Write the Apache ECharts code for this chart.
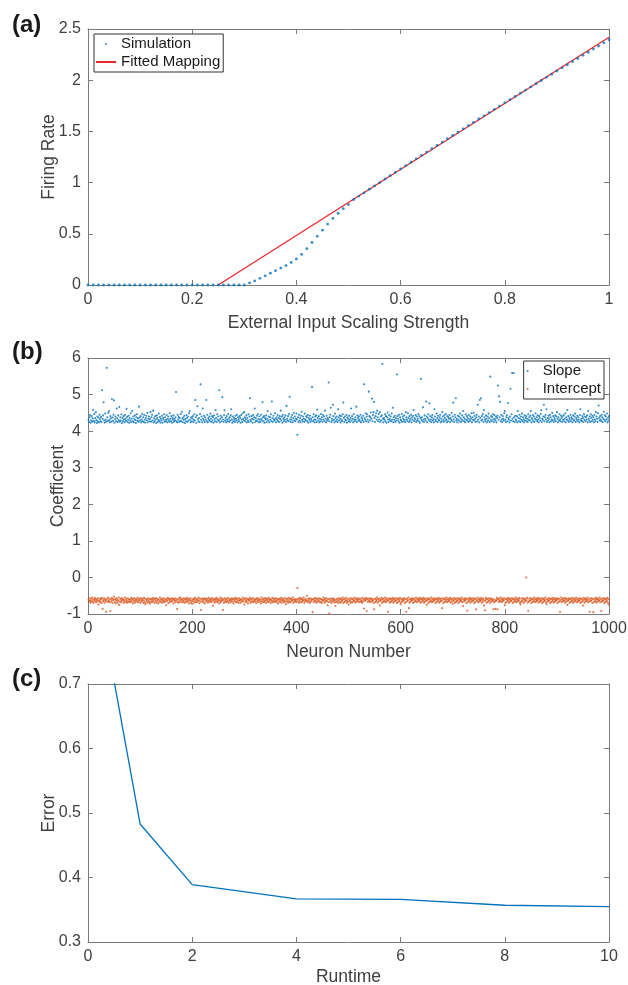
<!DOCTYPE html>
<html>
<head>
<meta charset="utf-8">
<script src="https://cdn.jsdelivr.net/npm/echarts@6/dist/echarts.min.js"></script>
<style>
html,body{margin:0;padding:0;background:#fff;}
#chart{width:628px;height:985px;}
</style>
</head>
<body>
<div id="chart"></div>
<script>
// ---------- Panel (a) data ----------
const simX = [0,0.01,0.02,0.03,0.04,0.05,0.06,0.07,0.08,0.09,0.10,0.11,0.12,0.13,0.14,0.15,0.16,0.17,0.18,0.19,0.20,0.21,0.22,0.23,0.24,0.25,0.26,0.27,0.28,0.29,0.30,0.31,0.32,0.33,0.34,0.35,0.36,0.37,0.38,0.39,0.40,0.41,0.42,0.43,0.44,0.45,0.46,0.47,0.48,0.49,0.50,0.51,0.52,0.53,0.54,0.55,0.56,0.57,0.58,0.59,0.60,0.61,0.62,0.63,0.64,0.65,0.66,0.67,0.68,0.69,0.70,0.71,0.72,0.73,0.74,0.75,0.76,0.77,0.78,0.79,0.80,0.81,0.82,0.83,0.84,0.85,0.86,0.87,0.88,0.89,0.90,0.91,0.92,0.93,0.94,0.95,0.96,0.97,0.98,0.99,1.00];
const simY = [0,0,0,0,0,0,0,0,0,0,0,0,0,0,0,0,0,0,0,0,0,0,0,0,0,0,0,0,0,0,0,
  0.02,0.04,0.065,0.09,0.115,0.14,0.165,0.19,0.22,0.255,
  0.30,0.355,0.415,0.475,0.535,0.595,0.65,0.70,0.745,0.785,
  0.835,0.868,0.900,0.935,0.968,1.000,1.035,1.067,1.100,1.133,
  1.166,1.199,1.232,1.265,1.298,1.331,1.363,1.396,1.428,1.461,
  1.493,1.525,1.557,1.589,1.621,1.652,1.684,1.716,1.747,1.779,
  1.810,1.842,1.873,1.904,1.935,1.966,1.997,2.028,2.059,2.090,
  2.121,2.151,2.182,2.212,2.243,2.273,2.304,2.334,2.365,2.395];
const fitX = [0.25, 1.0];
const fitY = [0, 2.42];

// ---------- Panel (b) data (neuron 1..1000) ----------
const slope = [
4.31,4.25,4.38,4.44,4.23,4.29,4.41,4.26,4.35,4.58,4.28,4.47,4.24,4.36,4.52,4.30,4.22,4.40,4.27,4.37,
4.24,4.45,4.33,4.27,4.39,4.25,5.12,4.34,4.43,4.79,4.29,4.23,4.48,4.32,4.26,5.73,4.38,4.28,4.50,4.55,
4.30,4.24,4.41,4.35,4.26,4.88,4.37,4.28,4.45,4.84,4.23,4.33,4.40,4.27,4.62,4.35,4.25,4.43,4.30,4.66,
4.26,4.38,4.29,4.46,4.22,4.36,4.27,4.41,4.32,4.24,4.44,4.34,4.28,4.61,4.39,4.25,4.31,4.42,4.23,4.36,
4.29,4.49,4.25,4.34,4.55,4.27,4.40,4.24,4.33,4.43,4.30,4.22,4.38,4.46,4.28,4.35,4.26,4.67,4.37,4.29,
4.41,4.24,4.32,4.47,4.27,4.38,4.25,4.44,4.31,4.23,4.36,4.42,4.29,4.50,4.24,4.34,4.40,4.27,4.33,4.52,
4.26,4.38,4.45,4.29,4.56,4.24,4.35,4.27,4.41,4.32,4.22,4.43,4.36,4.25,4.31,4.48,4.28,4.39,4.23,4.34,
4.29,4.42,4.23,4.36,4.32,4.46,4.26,4.38,4.27,4.31,4.44,4.24,4.34,4.40,4.29,4.25,4.49,4.33,4.27,4.41,
4.23,4.36,4.31,4.43,4.26,4.34,4.29,4.38,5.07,4.27,4.24,4.45,4.32,4.39,4.25,4.36,4.28,4.47,4.27,4.53,
4.34,4.24,4.38,4.31,4.42,4.22,4.33,4.27,4.44,4.36,4.25,4.40,4.29,4.49,4.55,4.32,4.24,4.38,4.27,4.35,
4.41,4.25,4.31,4.46,4.29,4.85,4.38,4.23,4.43,4.68,4.33,4.27,4.36,4.25,4.47,5.28,4.31,4.40,4.24,4.62,
4.34,4.29,4.42,4.25,4.38,4.32,4.85,4.27,4.45,4.24,4.36,4.31,4.40,4.27,4.48,4.34,4.25,4.41,4.29,4.38,
4.23,4.43,4.33,4.27,4.58,4.36,4.25,4.46,4.31,4.40,4.29,5.12,4.24,4.34,4.42,4.27,4.38,4.93,4.32,4.25,
4.44,4.57,4.29,4.36,4.24,4.41,4.31,4.27,4.47,4.34,4.25,4.38,4.29,4.43,4.60,4.32,4.23,4.40,4.27,4.36,
4.31,4.25,4.42,4.34,4.29,4.45,4.24,4.38,4.32,4.27,4.41,4.36,4.23,4.44,4.31,4.25,4.49,4.34,4.29,4.52,
4.38,4.27,4.33,4.43,4.24,4.36,4.29,4.46,4.25,4.40,4.90,4.31,4.27,4.41,4.34,4.23,4.44,4.32,4.38,4.62,
4.25,4.36,4.29,4.42,4.27,4.47,4.33,4.24,4.40,4.31,4.25,4.45,4.34,4.29,4.79,4.38,4.27,4.41,4.23,4.36,
4.32,4.43,4.25,4.34,4.55,4.29,4.40,4.24,4.38,4.31,4.46,4.27,4.81,4.36,4.25,4.42,4.32,4.29,4.49,4.34,
4.24,4.38,4.31,4.44,4.27,4.36,4.25,4.41,4.33,4.56,4.29,4.40,4.23,4.45,4.34,4.27,4.38,4.31,4.43,4.25,
4.69,4.34,4.29,4.41,4.27,4.47,4.94,4.32,4.25,4.38,4.31,4.44,4.24,4.36,4.50,4.29,4.40,4.27,4.34,4.48,
4.32,3.90,4.38,4.25,4.45,4.29,4.36,4.24,4.42,4.53,4.31,4.27,4.40,4.34,4.25,4.48,4.32,4.29,4.41,4.38,
4.27,4.44,4.23,4.36,4.31,4.42,4.25,4.34,4.29,5.21,4.38,4.27,4.46,4.32,4.24,4.40,4.31,4.43,4.25,4.59,
4.36,4.29,4.41,4.24,4.34,4.27,4.47,4.32,4.38,4.25,4.44,4.31,4.40,4.27,4.56,4.34,4.24,4.42,4.29,4.36,
4.32,5.33,4.27,4.38,4.45,4.64,4.25,4.34,4.29,4.72,4.41,4.31,4.24,4.48,4.36,4.27,4.40,4.32,4.25,4.60,
4.38,4.29,4.43,4.34,4.24,4.41,4.31,4.27,4.46,4.78,4.36,4.25,4.40,4.32,4.29,4.44,4.23,4.38,4.34,4.27,
4.42,4.31,4.25,4.36,4.62,4.29,4.41,4.34,4.24,4.47,4.32,4.27,4.38,4.31,4.67,4.25,4.43,4.36,4.29,4.40,
4.32,4.27,4.45,4.24,4.38,4.34,4.29,4.42,4.25,5.28,4.36,4.31,4.49,4.27,4.40,4.46,4.32,4.25,5.08,4.41,
4.29,4.38,4.51,4.34,4.89,4.27,4.44,4.52,4.80,4.36,4.25,4.41,4.49,4.31,4.56,4.38,4.27,4.47,4.32,4.52,
4.25,4.40,4.29,4.43,5.84,4.34,4.24,4.36,4.31,4.46,4.27,4.41,4.23,4.38,4.51,4.32,4.25,4.44,4.34,4.29,
4.40,4.27,4.48,4.32,4.64,4.24,4.38,4.31,4.42,4.25,4.36,4.29,5.55,4.41,4.34,4.27,4.45,4.23,4.38,4.32,
4.29,4.47,4.25,4.40,4.34,4.27,4.43,4.31,4.24,4.52,4.38,4.32,4.27,4.49,4.36,4.25,4.41,4.29,4.34,4.45,
4.24,4.38,4.31,4.42,4.58,4.27,4.36,4.32,4.44,4.25,4.40,4.29,4.34,4.47,4.27,4.41,4.23,4.36,5.43,4.31,
4.38,4.27,4.65,4.32,4.25,4.43,4.34,4.29,4.81,4.40,4.24,4.36,4.46,4.31,4.76,4.27,4.41,4.32,4.25,4.38,
4.44,4.29,4.34,4.24,4.60,4.40,4.31,4.27,4.48,4.36,4.25,4.42,4.32,4.29,4.38,4.45,4.24,4.34,4.27,4.52,
4.40,4.31,4.25,4.43,4.36,4.29,4.47,4.32,4.24,4.41,4.27,4.38,4.34,4.44,4.25,4.36,4.31,4.50,4.27,4.40,
4.78,4.32,4.25,4.45,4.38,4.90,4.29,4.34,4.24,4.42,4.31,4.40,4.27,4.48,4.36,4.25,4.32,4.43,4.29,4.55,
4.38,4.27,4.34,4.24,4.46,4.31,4.41,4.29,4.36,4.25,4.44,4.32,4.27,4.40,4.34,4.49,4.24,4.38,4.31,4.50,
4.29,4.42,4.34,4.25,4.38,4.45,4.27,4.72,4.32,4.40,4.24,4.85,4.36,4.90,4.29,4.41,4.31,4.47,4.25,4.58,
4.38,4.32,4.27,4.43,4.34,4.24,4.40,4.29,4.48,4.36,4.25,5.49,4.31,4.41,4.27,4.38,4.46,4.32,4.25,4.44,
4.34,4.29,4.40,4.24,4.36,4.42,5.25,4.31,4.95,4.38,4.80,4.27,4.45,4.32,4.25,4.41,4.34,4.29,4.49,4.55,
4.31,4.25,4.38,4.43,4.27,4.77,4.36,4.32,4.24,4.40,5.16,4.29,4.46,5.59,4.34,4.27,5.59,4.38,4.25,4.42,
4.32,4.29,4.41,4.24,4.55,4.36,4.27,4.45,4.34,4.25,4.40,4.31,4.48,4.27,4.38,4.32,4.24,4.43,4.29,4.36,
4.41,4.27,4.34,4.25,4.46,4.31,4.38,4.29,4.42,4.55,4.24,4.36,4.32,4.44,4.27,4.40,4.25,4.34,4.49,4.31,
4.38,4.27,4.43,4.32,4.24,4.41,4.36,4.29,4.47,4.57,4.25,4.34,4.31,4.40,4.72,4.27,4.38,4.44,4.32,4.60,
4.25,4.36,4.29,4.42,4.34,4.24,4.45,4.38,4.27,4.32,4.50,4.29,4.41,4.25,4.36,4.31,4.43,4.27,4.40,4.52,
4.34,4.24,4.38,4.29,4.46,4.32,4.27,4.42,4.36,4.25,4.40,4.31,4.44,4.27,4.34,4.49,4.24,4.38,4.32,4.58,
4.29,4.41,4.25,4.36,4.31,4.45,4.27,4.38,4.34,4.24,4.43,4.32,4.29,4.40,4.48,4.25,4.36,4.31,4.42,4.27,
4.38,4.32,4.24,4.44,4.60,4.29,4.34,4.27,4.41,4.36,4.25,4.47,4.31,4.40,4.27,4.38,4.32,4.43,4.24,4.55,
4.34,4.29,4.40,4.25,4.46,4.36,4.27,4.42,4.31,4.38,4.24,4.44,4.32,4.27,4.52,4.40,4.34,4.25,4.49,4.70,
4.36,4.29,4.41,4.32,4.27,4.45,4.38,4.25,4.34,4.53,4.31,4.43,4.27,4.40,4.32,4.48,4.24,4.36,4.29,4.41];

const intercept = [
-0.61,-0.57,-0.66,-0.63,-0.69,-0.58,-0.64,-0.55,-0.67,-0.60,-0.70,-0.62,-0.56,-0.65,-0.59,-0.68,-0.61,-0.64,-0.57,-0.74,
-0.63,-0.68,-0.58,-0.65,-0.60,-0.70,-0.56,-0.86,-0.66,-0.62,-0.57,-0.69,-0.61,-0.64,-0.94,-0.59,-0.67,-0.55,-0.63,-0.66,
-0.58,-0.68,-0.92,-0.60,-0.65,-0.56,-0.70,-0.62,-0.59,-0.52,-0.67,-0.61,-0.71,-0.57,-0.64,-0.60,-0.69,-0.63,-0.55,-0.75,
-0.66,-0.59,-0.68,-0.57,-0.64,-0.61,-0.58,-0.70,-0.62,-0.66,-0.55,-0.67,-0.60,-0.63,-0.69,-0.57,-0.65,-0.59,-0.68,-0.61,
-0.67,-0.62,-0.56,-0.66,-0.60,-0.71,-0.58,-0.64,-0.57,-0.69,-0.63,-0.59,-0.66,-0.61,-0.55,-0.68,-0.64,-0.58,-0.62,-0.70,
-0.57,-0.66,-0.60,-0.64,-0.58,-0.70,-0.63,-0.56,-0.68,-0.73,-0.59,-0.65,-0.61,-0.69,-0.57,-0.63,-0.67,-0.60,-0.71,-0.58,
-0.65,-0.59,-0.68,-0.62,-0.56,-0.66,-0.60,-0.70,-0.58,-0.64,-0.57,-0.69,-0.63,-0.59,-0.71,-0.61,-0.66,-0.55,-0.67,-0.62,
-0.58,-0.69,-0.61,-0.65,-0.57,-0.68,-0.63,-0.59,-0.66,-0.76,-0.60,-0.64,-0.56,-0.70,-0.58,-0.62,-0.68,-0.60,-0.65,-0.57,
-0.66,-0.62,-0.58,-0.71,-0.60,-0.64,-0.57,-0.68,-0.63,-0.59,-0.86,-0.67,-0.61,-0.69,-0.56,-0.65,-0.60,-0.55,-0.68,-0.62,
-0.59,-0.67,-0.63,-0.57,-0.70,-0.60,-0.65,-0.58,-0.68,-0.62,-0.56,-0.66,-0.61,-0.71,-0.59,-0.64,-0.57,-0.69,-0.63,-0.72,
-0.60,-0.65,-0.58,-0.69,-0.62,-0.56,-0.67,-0.61,-0.68,-0.59,-0.64,-0.55,-0.63,-0.70,-0.58,-0.66,-0.89,-0.60,-0.65,-0.57,
-0.68,-0.62,-0.58,-0.71,-0.60,-0.66,-0.57,-0.64,-0.59,-0.69,-0.63,-0.56,-0.67,-0.61,-0.65,-0.58,-0.68,-0.62,-0.57,-0.77,
-0.64,-0.60,-0.69,-0.58,-0.66,-0.62,-0.56,-0.68,-0.61,-0.65,-0.59,-0.71,-0.63,-0.55,-0.67,-0.60,-0.64,-0.58,-0.89,-0.62,
-0.69,-0.57,-0.65,-0.60,-0.68,-0.58,-0.63,-0.66,-0.56,-0.70,-0.61,-0.64,-0.59,-0.68,-0.62,-0.57,-0.66,-0.60,-0.71,-0.58,
-0.65,-0.62,-0.56,-0.68,-0.60,-0.67,-0.58,-0.63,-0.70,-0.57,-0.64,-0.61,-0.69,-0.59,-0.62,-0.66,-0.55,-0.65,-0.60,-0.74,
-0.58,-0.68,-0.63,-0.57,-0.66,-0.60,-0.71,-0.59,-0.64,-0.62,-0.56,-0.69,-0.61,-0.67,-0.58,-0.65,-0.57,-0.68,-0.63,-0.60,
-0.66,-0.60,-0.70,-0.58,-0.64,-0.57,-0.68,-0.62,-0.59,-0.66,-0.61,-0.71,-0.55,-0.65,-0.60,-0.68,-0.58,-0.63,-0.67,-0.57,
-0.62,-0.69,-0.58,-0.64,-0.60,-0.68,-0.56,-0.66,-0.62,-0.59,-0.70,-0.61,-0.65,-0.56,-0.68,-0.63,-0.58,-0.67,-0.60,-0.64,
-0.57,-0.68,-0.63,-0.59,-0.71,-0.60,-0.65,-0.58,-0.67,-0.62,-0.56,-0.69,-0.61,-0.64,-0.58,-0.68,-0.63,-0.57,-0.66,-0.73,
-0.60,-0.65,-0.58,-0.69,-0.63,-0.56,-0.67,-0.60,-0.68,-0.58,-0.64,-0.62,-0.55,-0.70,-0.61,-0.66,-0.59,-0.65,-0.62,-0.68,
-0.60,-0.29,-0.65,-0.58,-0.69,-0.62,-0.56,-0.67,-0.60,-0.68,-0.58,-0.64,-0.62,-0.55,-0.70,-0.61,-0.66,-0.59,-0.64,-0.50,
-0.63,-0.68,-0.58,-0.65,-0.60,-0.70,-0.57,-0.66,-0.62,-0.59,-0.95,-0.61,-0.68,-0.58,-0.65,-0.63,-0.56,-0.69,-0.60,-0.66,
-0.58,-0.65,-0.63,-0.57,-0.68,-0.60,-0.67,-0.59,-0.70,-0.62,-0.64,-0.55,-0.61,-0.69,-0.58,-0.66,-0.63,-0.57,-0.65,-0.76,
-0.60,-0.68,-0.99,-0.58,-0.65,-0.62,-0.70,-0.57,-0.66,-0.60,-0.64,-0.58,-0.69,-0.62,-0.78,-0.67,-0.60,-0.65,-0.58,-0.70,
-0.63,-0.57,-0.67,-0.60,-0.69,-0.58,-0.65,-0.62,-0.55,-0.70,-0.60,-0.67,-0.58,-0.65,-0.63,-0.56,-0.69,-0.61,-0.66,-0.74,
-0.58,-0.65,-0.62,-0.70,-0.57,-0.67,-0.60,-0.68,-0.58,-0.64,-0.63,-0.55,-0.69,-0.60,-0.66,-0.58,-0.65,-0.62,-0.57,-0.68,
-0.60,-0.67,-0.58,-0.65,-0.63,-0.70,-0.56,-0.66,-0.61,-0.85,-0.58,-0.64,-0.62,-0.56,-0.92,-0.60,-0.67,-0.58,-0.65,-0.63,
-0.57,-0.68,-0.60,-0.66,-0.58,-0.64,-0.62,-0.70,-0.87,-0.59,-0.67,-0.58,-0.65,-0.62,-0.55,-0.69,-0.60,-0.66,-0.58,-0.77,
-0.64,-0.62,-0.56,-0.70,-0.60,-0.67,-0.58,-0.65,-0.63,-0.55,-0.68,-0.60,-0.66,-0.58,-0.64,-0.94,-0.62,-0.57,-0.69,-0.60,
-0.67,-0.58,-0.65,-0.62,-0.56,-0.69,-0.60,-0.66,-0.58,-0.64,-0.63,-0.57,-0.70,-0.60,-0.67,-0.58,-0.65,-0.62,-0.56,-0.73,
-0.68,-0.60,-0.66,-0.58,-0.64,-0.62,-0.57,-0.70,-0.60,-0.67,-0.94,-0.58,-0.65,-0.62,-0.55,-0.84,-0.69,-0.60,-0.66,-0.58,
-0.64,-0.62,-0.57,-0.70,-0.60,-0.67,-0.58,-0.65,-0.63,-0.55,-0.68,-0.60,-0.66,-0.58,-0.64,-0.62,-0.56,-0.69,-0.60,-0.67,
-0.58,-0.65,-0.62,-0.56,-0.69,-0.60,-0.66,-0.58,-0.64,-0.75,-0.62,-0.57,-0.70,-0.60,-0.67,-0.58,-0.65,-0.63,-0.55,-0.68,
-0.60,-0.66,-0.58,-0.64,-0.62,-0.57,-0.70,-0.60,-0.67,-0.58,-0.65,-0.62,-0.56,-0.69,-0.60,-0.66,-0.58,-0.64,-0.63,-0.84,
-0.57,-0.70,-0.60,-0.67,-0.58,-0.65,-0.62,-0.55,-0.68,-0.60,-0.66,-0.58,-0.64,-0.62,-0.56,-0.69,-0.60,-0.66,-0.58,-0.72,
-0.64,-0.62,-0.56,-0.69,-0.60,-0.67,-0.58,-0.65,-0.63,-0.57,-0.70,-0.60,-0.66,-0.58,-0.64,-0.62,-0.55,-0.68,-0.60,-0.78,
-0.66,-0.58,-0.64,-0.62,-0.57,-0.70,-0.60,-0.91,-0.67,-0.58,-0.65,-0.62,-0.56,-0.69,-0.60,-0.66,-0.58,-0.64,-0.63,-0.57,
-0.70,-0.60,-0.67,-0.58,-0.87,-0.65,-0.62,-0.55,-0.68,-0.60,-0.66,-0.58,-0.64,-0.62,-0.56,-0.69,-0.60,-0.66,-0.58,-0.77,
-0.64,-0.90,-0.62,-0.56,-0.69,-0.60,-0.67,-0.58,-0.65,-0.63,-0.57,-0.70,-0.60,-0.66,-0.58,-0.64,-0.62,-0.87,-0.68,-0.60,
-0.66,-0.86,-0.64,-0.62,-0.56,-0.87,-0.60,-0.67,-0.58,-0.65,-0.63,-0.55,-0.68,-0.60,-0.66,-0.58,-0.64,-0.62,-0.57,-0.76,
-0.70,-0.60,-0.67,-0.58,-0.65,-0.62,-0.56,-0.69,-0.60,-0.66,-0.58,-0.64,-0.63,-0.57,-0.70,-0.60,-0.67,-0.58,-0.65,-0.62,
-0.55,-0.68,-0.60,-0.66,-0.58,-0.64,-0.62,-0.56,-0.69,-0.74,-0.67,-0.58,-0.65,-0.63,-0.57,-0.70,-0.60,-0.66,-0.58,-0.64,
0.00,-0.62,-0.56,-0.69,-0.91,-0.66,-0.58,-0.64,-0.63,-0.57,-0.70,-0.60,-0.67,-0.58,-0.65,-0.62,-0.55,-0.68,-0.60,-0.66,
-0.58,-0.64,-0.62,-0.56,-0.69,-0.60,-0.66,-0.58,-0.65,-0.63,-0.57,-0.70,-0.60,-0.67,-0.58,-0.64,-0.62,-0.55,-0.68,-0.73,
-0.60,-0.66,-0.58,-0.64,-0.63,-0.57,-0.70,-0.60,-0.67,-0.58,-0.65,-0.62,-0.56,-0.69,-0.60,-0.66,-0.58,-0.64,-0.62,-0.57,
-0.70,-0.60,-0.67,-0.58,-0.65,-0.94,-0.62,-0.55,-0.68,-0.60,-0.66,-0.58,-0.64,-0.63,-0.56,-0.69,-0.60,-0.66,-0.58,-0.75,
-0.64,-0.62,-0.57,-0.70,-0.60,-0.67,-0.58,-0.65,-0.63,-0.56,-0.69,-0.60,-0.66,-0.58,-0.64,-0.62,-0.55,-0.68,-0.60,-0.66,
-0.58,-0.64,-0.63,-0.57,-0.70,-0.60,-0.67,-0.58,-0.65,-0.77,-0.62,-0.56,-0.69,-0.60,-0.66,-0.58,-0.64,-0.62,-0.55,-0.68,
-0.60,-0.66,-0.94,-0.58,-0.64,-0.63,-0.57,-0.70,-0.60,-0.95,-0.67,-0.58,-0.65,-0.62,-0.56,-0.69,-0.60,-0.66,-0.58,-0.64,
-0.62,-0.55,-0.68,-0.60,-0.92,-0.66,-0.58,-0.64,-0.63,-0.57,-0.70,-0.60,-0.67,-0.58,-0.65,-0.62,-0.56,-0.69,-0.74,-0.60];

// ---------- Panel (c) data ----------
const runtime = [0, 1, 2, 4, 6, 8, 10];
const errorVals = [0.927, 0.483, 0.389, 0.367, 0.366, 0.357, 0.355];

// ---------- Styling ----------
const FONT = '"Liberation Sans", Arial, Helvetica, sans-serif';
const AXIS_COLOR = '#7a7a7a';
const TEXT_COLOR = '#404040';
const BLUE = '#0072BD';
const ORANGE = '#D95319';
const RED = '#E8262B';

const grids = [
  {left: 88, top: 29, width: 521, height: 256, outerBoundsMode: 'none', containLabel: false},
  {left: 88, top: 358, width: 521, height: 256, outerBoundsMode: 'none', containLabel: false},
  {left: 88, top: 684, width: 521, height: 258, outerBoundsMode: 'none', containLabel: false}
];

function xAxes(gi, min, max, interval, name, gap) {
  const common = {
    type: 'value', gridIndex: gi, min: min, max: max, interval: interval,
    splitLine: {show: false},
    axisLine: {show: true, onZero: false, lineStyle: {color: AXIS_COLOR, width: 1}},
    axisTick: {show: true, inside: true, length: 5, lineStyle: {color: AXIS_COLOR}}
  };
  return [
    Object.assign({}, common, {
      position: 'bottom',
      name: name, nameLocation: 'middle', nameGap: gap, nameMoveOverlap: false,
      nameTextStyle: {fontFamily: FONT, fontSize: 17.5, color: TEXT_COLOR},
      axisLabel: {fontFamily: FONT, fontSize: 16, color: TEXT_COLOR, margin: 7,
        formatter: v => String(v)}
    }),
    Object.assign({}, common, {position: 'top', axisLabel: {show: false}})
  ];
}
function yAxes(gi, min, max, interval, name, gap) {
  const common = {
    type: 'value', gridIndex: gi, min: min, max: max, interval: interval,
    splitLine: {show: false},
    axisLine: {show: true, onZero: false, lineStyle: {color: AXIS_COLOR, width: 1}},
    axisTick: {show: true, inside: true, length: 5, lineStyle: {color: AXIS_COLOR}}
  };
  return [
    Object.assign({}, common, {
      position: 'left',
      name: name, nameLocation: 'middle', nameGap: gap, nameMoveOverlap: false,
      nameTextStyle: {fontFamily: FONT, fontSize: 17.5, color: TEXT_COLOR},
      axisLabel: {fontFamily: FONT, fontSize: 16, color: TEXT_COLOR, margin: 7}
    }),
    Object.assign({}, common, {position: 'right', axisLabel: {show: false}})
  ];
}

const xAxisList = [].concat(
  xAxes(0, 0, 1, 0.2, 'External Input Scaling Strength', 29),
  xAxes(1, 0, 1000, 200, 'Neuron Number', 29),
  xAxes(2, 0, 10, 2, 'Runtime', 26)
);
const yAxisList = [].concat(
  yAxes(0, 0, 2.5, 0.5, 'Firing Rate', 30),
  yAxes(1, -1, 6, 1, 'Coefficient', 21),
  yAxes(2, 0.3, 0.7, 0.1, 'Error', 30)
);

const legendText = {fontFamily: FONT, fontSize: 15, color: '#1a1a1a', lineHeight: 16};

const option = {
  animation: false,
  backgroundColor: '#ffffff',
  grid: grids,
  xAxis: xAxisList,
  yAxis: yAxisList,
  legend: [
    {
      orient: 'vertical', left: 94, top: 34, selectedMode: false, align: 'left',
      itemWidth: 20, itemHeight: 2, itemGap: 2,
      padding: [2, 3, 2, 2],
      borderColor: '#333333', borderWidth: 1, backgroundColor: '#ffffff',
      textStyle: legendText,
      data: [{name: 'Simulation', icon: 'circle'}, {name: 'Fitted Mapping', icon: 'rect'}]
    },
    {
      orient: 'vertical', right: 24, top: 361, selectedMode: false, align: 'left',
      itemWidth: 20, itemHeight: 2, itemGap: 2,
      padding: [2, 3, 2, 3],
      borderColor: '#333333', borderWidth: 1, backgroundColor: '#ffffff',
      textStyle: legendText,
      data: [{name: 'Slope', icon: 'circle'}, {name: 'Intercept', icon: 'circle'}]
    }
  ],
  graphic: [
    {type: 'text', left: 12, top: 13, style: {text: '(a)', font: 'bold 24px ' + FONT, fill: '#1a1a1a'}},
    {type: 'text', left: 12, top: 340, style: {text: '(b)', font: 'bold 24px ' + FONT, fill: '#1a1a1a'}},
    {type: 'text', left: 12, top: 667, style: {text: '(c)', font: 'bold 24px ' + FONT, fill: '#1a1a1a'}}
  ],
  series: [
    {
      name: 'Simulation', type: 'scatter', xAxisIndex: 0, yAxisIndex: 0,
      symbol: 'circle', symbolSize: 2.8, itemStyle: {color: BLUE},
      data: simX.map((x, i) => [x, simY[i]]), z: 3
    },
    {
      name: 'Fitted Mapping', type: 'line', xAxisIndex: 0, yAxisIndex: 0,
      showSymbol: false, symbol: 'none', color: RED,
      lineStyle: {color: RED, width: 1.3}, itemStyle: {color: RED},
      data: fitX.map((x, i) => [x, fitY[i]]), z: 2
    },
    {
      name: 'Slope', type: 'scatter', xAxisIndex: 2, yAxisIndex: 2,
      symbol: 'circle', symbolSize: 2.1, itemStyle: {color: BLUE},
      data: slope.map((v, i) => [i + 1, v])
    },
    {
      name: 'Intercept', type: 'scatter', xAxisIndex: 2, yAxisIndex: 2,
      symbol: 'circle', symbolSize: 2.1, itemStyle: {color: ORANGE},
      data: intercept.map((v, i) => [i + 1, v])
    },
    {
      name: 'Error', type: 'line', xAxisIndex: 4, yAxisIndex: 4,
      showSymbol: false, symbol: 'none', clip: true,
      lineStyle: {color: BLUE, width: 1.3}, itemStyle: {color: BLUE},
      data: runtime.map((x, i) => [x, errorVals[i]])
    }
  ]
};

const chart = echarts.init(document.getElementById('chart'), null, {renderer: 'canvas'});
chart.setOption(option);
</script>
</body>
</html>
